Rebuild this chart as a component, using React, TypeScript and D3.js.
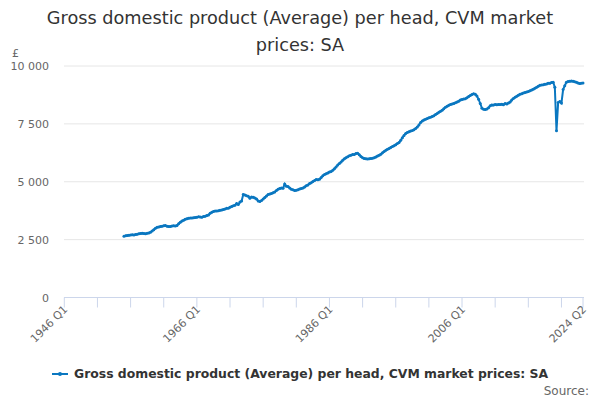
import { useMemo } from 'react';
import * as d3 from 'd3';

// quarterly values, £ per head, 1955 Q1 .. 2024 Q2
const firstYear = 1955;
const v1950s = [
  2650, 2670, 2680, 2690, 2700, 2710, 2700, 2720, 2730, 2750, 2760, 2770,
  2760, 2750, 2770, 2790, 2820, 2870, 2930, 2990,
];
const v1960s = [
  3030, 3050, 3070, 3080, 3100, 3110, 3080, 3070, 3070, 3090, 3100, 3090,
  3110, 3190, 3250, 3300, 3340, 3380, 3400, 3420, 3430, 3430, 3440, 3460,
  3470, 3490, 3480, 3470, 3500, 3510, 3540, 3560, 3640, 3680, 3720, 3740,
  3740, 3750, 3770, 3780,
];
const v1970s = [
  3800, 3820, 3850, 3860, 3900, 3930, 3960, 3990, 4060, 4020, 4120, 4170,
  4450, 4430, 4390, 4370, 4290, 4340, 4330, 4300, 4250, 4170, 4150, 4190,
  4260, 4320, 4380, 4450, 4470, 4490, 4530, 4560, 4620, 4680, 4710, 4730,
  4720, 4900, 4810, 4790,
];
const v1980s = [
  4730, 4680, 4650, 4620, 4630, 4650, 4690, 4710, 4730, 4770, 4830, 4860,
  4920, 4960, 5010, 5050, 5100, 5090, 5110, 5180, 5260, 5310, 5350, 5380,
  5420, 5440, 5500, 5560, 5640, 5720, 5790, 5850, 5930, 5990, 6040, 6080,
  6120, 6150, 6180, 6180,
];
const v1990s = [
  6220, 6230, 6170, 6090, 6040, 6000, 5990, 5980, 5990, 6000, 6010, 6040,
  6070, 6110, 6150, 6190, 6250, 6310, 6360, 6400, 6440, 6480, 6520, 6560,
  6600, 6650, 6700, 6790, 6900, 7000, 7080, 7130, 7160, 7190, 7210, 7250,
  7300, 7360, 7450, 7560,
];
const v2000s = [
  7620, 7670, 7700, 7730, 7760, 7790, 7820, 7850, 7900, 7950, 8000, 8040,
  8090, 8150, 8220, 8260, 8300, 8340, 8360, 8380, 8410, 8440, 8480, 8530,
  8550, 8570, 8590, 8630, 8680, 8730, 8770, 8800, 8780, 8700, 8560, 8380,
  8180, 8130, 8120, 8140,
];
const v2010s = [
  8200, 8280, 8320, 8310, 8340, 8330, 8340, 8340, 8350, 8330, 8380, 8360,
  8400, 8440, 8530, 8600, 8650, 8690, 8740, 8780, 8800, 8830, 8860, 8880,
  8900, 8930, 8960, 9000, 9040, 9080, 9120, 9170, 9180, 9190, 9210, 9220,
  9260, 9250, 9290, 9300,
];
const v2020s = [
  9080, 7200, 8420, 8470, 8400, 8980, 9150, 9300, 9330, 9340, 9350, 9340,
  9320, 9300, 9270, 9240, 9260, 9270,
];
const values = [...v1950s, ...v1960s, ...v1970s, ...v1980s, ...v1990s, ...v2000s, ...v2010s, ...v2020s];

const axisStartYear = 1946;
const lastQuarter = 313; // 2024 Q2 counted from 1946 Q1
const yTicks = [0, 2500, 5000, 7500, 10000];
const xLabelQuarters = [0, 80, 160, 240, 313];
const seriesName = 'Gross domestic product (Average) per head, CVM market prices: SA';
const titleLines = ['Gross domestic product (Average) per head, CVM market', 'prices: SA'];

const qLabel = (q: number) => `${axisStartYear + Math.floor(q / 4)} Q${(q % 4) + 1}`;
const fmt = (v: number) => d3.format(',')(v).replace(',', ' ');

export default function App() {
  const font = '"DejaVu Sans", Verdana, sans-serif';
  const x = d3.scaleLinear().domain([0, lastQuarter]).range([64.3, 583]);
  const y = d3.scaleLinear().domain([0, 10000]).range([297.5, 66]);
  const offset = (firstYear - axisStartYear) * 4;
  const pts = values.map((v, i) => ({ q: offset + i, v }));
  const line = d3
    .line<{ q: number; v: number }>()
    .x((d) => x(d.q))
    .y((d) => y(d.v));
  const tickQs = useMemo(() => [...d3.range(0, lastQuarter, 20), lastQuarter], []);
  const color = '#0a77c0';

  return (
    <svg
      width={600}
      height={400}
      style={{ position: 'absolute', left: 0, top: 0, background: '#fff', fontFamily: font }}
    >
      {titleLines.map((t, i) => (
        <text key={t} x={300} y={24 + i * 27} textAnchor="middle" fontSize={17.7} fill="#333">
          {t}
        </text>
      ))}
      <text x={12} y={57} fontSize={11} fill="#666">£</text>
      {yTicks.map((t) => (
        <g key={t}>
          {t > 0 && <line x1={64} x2={584} y1={y(t)} y2={y(t)} stroke="#e6e6e6" />}
          <text x={49} y={y(t) + 4} textAnchor="end" fontSize={11} fill="#666">
            {fmt(t)}
          </text>
        </g>
      ))}
      <line x1={64} x2={584} y1={297.5} y2={297.5} stroke="#ccd6eb" />
      {tickQs.map((q) => (
        <line key={q} x1={x(q)} x2={x(q)} y1={297.5} y2={307.5} stroke="#ccd6eb" />
      ))}
      {xLabelQuarters.map((q) => (
        <text
          key={q}
          x={x(q) + 4}
          y={310}
          transform={`rotate(-45 ${x(q) + 4} 310)`}
          textAnchor="end"
          fontSize={11}
          fill="#666"
        >
          {qLabel(q)}
        </text>
      ))}
      <path d={line(pts) || ''} fill="none" stroke={color} strokeWidth={2} />
      {pts.map((d) => (
        <circle key={d.q} cx={x(d.q)} cy={y(d.v)} r={1.5} fill={color} />
      ))}
      <line x1={52} x2={68} y1={374} y2={374} stroke={color} strokeWidth={2} />
      <circle cx={60} cy={374} r={2} fill={color} />
      <text x={74} y={378} fontSize={12.4} fontWeight="bold" fill="#333">
        {seriesName}
      </text>
      <text x={589} y={395} textAnchor="end" fontSize={12} fill="#666">
        Source:
      </text>
    </svg>
  );
}
